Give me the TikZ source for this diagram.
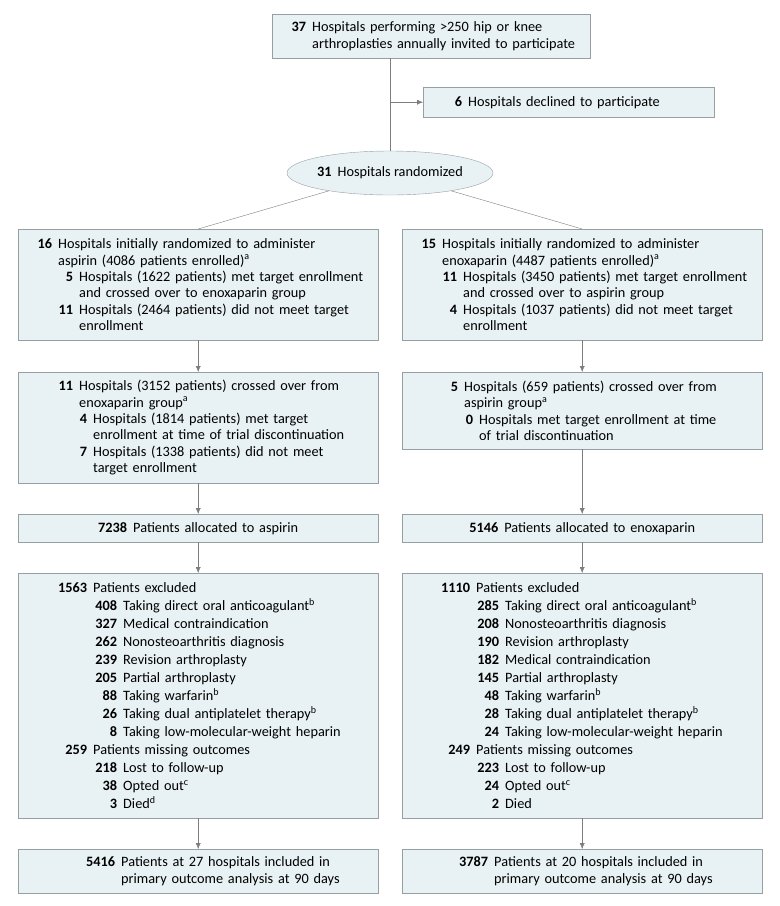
\documentclass[tikz,border=0pt]{standalone}
\usepackage{fontspec}
\setmainfont{Carlito}
\usetikzlibrary{shapes.geometric,arrows.meta}
\definecolor{boxfill}{RGB}{232,241,243}
\definecolor{boxline}{RGB}{150,160,163}
\definecolor{linegray}{RGB}{125,125,125}
% numbered line: indent, number, text
\newcommand{\nline}[3]{\hspace*{#1}\llap{\textbf{#2}\hspace{6pt}}#3}
\newcommand{\contline}[2]{\hspace*{#1}#2}
\newcommand{\fnote}[1]{\textsuperscript{#1}}

\begin{document}
\begin{tikzpicture}[x=1pt,y=-1pt,
  box/.style={draw=boxline, fill=boxfill, inner xsep=0pt, inner ysep=0pt,
    anchor=north west, align=left, text width=#1, minimum width=#1,
    font=\fontsize{14.3}{16.4}\selectfont},
  arr/.style={draw=linegray, -{Latex[length=6pt,width=5pt]}},
  link/.style={draw=linegray}]
\useasboundingbox (0,0) rectangle (780,906);

% top
\node[box=318pt, minimum height=44pt] (invited) at (272,14)
  {\nline{40pt}{37}{Hospitals performing >250 hip or knee}\\
   \contline{40pt}{arthroplasties annually invited to participate}};
\node[box=291pt, minimum height=30pt] (declined) at (423,87)
  {\nline{45pt}{6}{Hospitals declined to participate}};
\node[ellipse, draw=boxline, fill=boxfill, minimum width=188pt, minimum height=44pt,
  inner sep=0pt, font=\fontsize{14.3}{16.4}\selectfont] (rand) at (390,173)
  {\textbf{31}\hspace{6pt}Hospitals randomized};
\draw[link] (rand.north) -- (rand.north |- invited.south);
\draw[arr] (rand.north |- declined.west) -- (declined.west);

% initial randomization
\node[box=360pt, minimum height=111pt] (asp1) at (18,229)
  {\nline{40pt}{16}{Hospitals initially randomized to administer}\\
   \contline{40pt}{aspirin (4086 patients enrolled)\fnote{a}}\\
   \nline{61pt}{5}{Hospitals (1622 patients) met target enrollment}\\
   \contline{61pt}{and crossed over to enoxaparin group}\\
   \nline{61pt}{11}{Hospitals (2464 patients) did not meet target}\\
   \contline{61pt}{enrollment}};
\node[box=360pt, minimum height=111pt] (enox1) at (402,229)
  {\nline{40pt}{15}{Hospitals initially randomized to administer}\\
   \contline{40pt}{enoxaparin (4487 patients enrolled)\fnote{a}}\\
   \nline{61pt}{11}{Hospitals (3450 patients) met target enrollment}\\
   \contline{61pt}{and crossed over to aspirin group}\\
   \nline{61pt}{4}{Hospitals (1037 patients) did not meet target}\\
   \contline{61pt}{enrollment}};
\draw[link] (rand) -- (asp1.north);
\draw[link] (rand) -- (enox1.north);

% crossover
\node[box=360pt, minimum height=111pt] (asp2) at (18,372)
  {\nline{61pt}{11}{Hospitals (3152 patients) crossed over from}\\
   \contline{61pt}{enoxaparin group\fnote{a}}\\
   \nline{75pt}{4}{Hospitals (1814 patients) met target}\\
   \contline{75pt}{enrollment at time of trial discontinuation}\\
   \nline{75pt}{7}{Hospitals (1338 patients) did not meet}\\
   \contline{75pt}{target enrollment}};
\node[box=360pt, minimum height=77pt] (enox2) at (402,372)
  {\nline{62pt}{5}{Hospitals (659 patients) crossed over from}\\
   \contline{62pt}{aspirin group\fnote{a}}\\
   \nline{77pt}{0}{Hospitals met target enrollment at time}\\
   \contline{77pt}{of trial discontinuation}};
\draw[arr] (asp1) -- (asp2);
\draw[arr] (enox1) -- (enox2);

% allocation
\node[box=360pt, minimum height=28pt, align=center] (aspall) at (18,514)
  {\textbf{7238}\hspace{6pt}Patients allocated to aspirin};
\node[box=360pt, minimum height=28pt, align=center] (enoxall) at (402,514)
  {\textbf{5146}\hspace{6pt}Patients allocated to enoxaparin};
\draw[arr] (asp2) -- (aspall);
\draw[arr] (enox2) -- (enoxall);

% exclusions
\node[box=360pt, minimum height=245pt, font=\fontsize{14.3}{18}\selectfont] (aspexc) at (18,573)
  {\nline{75pt}{1563}{Patients excluded}\\
   \nline{105pt}{408}{Taking direct oral anticoagulant\fnote{b}}\\
   \nline{105pt}{327}{Medical contraindication}\\
   \nline{105pt}{262}{Nonosteoarthritis diagnosis}\\
   \nline{105pt}{239}{Revision arthroplasty}\\
   \nline{105pt}{205}{Partial arthroplasty}\\
   \nline{105pt}{88}{Taking warfarin\fnote{b}}\\
   \nline{105pt}{26}{Taking dual antiplatelet therapy\fnote{b}}\\
   \nline{105pt}{8}{Taking low-molecular-weight heparin}\\
   \nline{75pt}{259}{Patients missing outcomes}\\
   \nline{105pt}{218}{Lost to follow-up}\\
   \nline{105pt}{38}{Opted out\fnote{c}}\\
   \nline{105pt}{3}{Died\fnote{d}}};
\node[box=360pt, minimum height=245pt, font=\fontsize{14.3}{18}\selectfont] (enoxexc) at (402,573)
  {\nline{74pt}{1110}{Patients excluded}\\
   \nline{103pt}{285}{Taking direct oral anticoagulant\fnote{b}}\\
   \nline{103pt}{208}{Nonosteoarthritis diagnosis}\\
   \nline{103pt}{190}{Revision arthroplasty}\\
   \nline{103pt}{182}{Medical contraindication}\\
   \nline{103pt}{145}{Partial arthroplasty}\\
   \nline{103pt}{48}{Taking warfarin\fnote{b}}\\
   \nline{103pt}{28}{Taking dual antiplatelet therapy\fnote{b}}\\
   \nline{103pt}{24}{Taking low-molecular-weight heparin}\\
   \nline{74pt}{249}{Patients missing outcomes}\\
   \nline{103pt}{223}{Lost to follow-up}\\
   \nline{103pt}{24}{Opted out\fnote{c}}\\
   \nline{103pt}{2}{Died}};
\draw[arr] (aspall) -- (aspexc);
\draw[arr] (enoxall) -- (enoxexc);

% analysis
\node[box=360pt, minimum height=44pt, font=\fontsize{14.3}{17}\selectfont] (aspfin) at (18,849)
  {\nline{103pt}{5416}{Patients at 27 hospitals included in}\\
   \contline{103pt}{primary outcome analysis at 90 days}};
\node[box=360pt, minimum height=44pt, font=\fontsize{14.3}{17}\selectfont] (enoxfin) at (402,849)
  {\nline{92pt}{3787}{Patients at 20 hospitals included in}\\
   \contline{92pt}{primary outcome analysis at 90 days}};
\draw[arr] (aspexc) -- (aspfin);
\draw[arr] (enoxexc) -- (enoxfin);
\end{tikzpicture}
\end{document}
